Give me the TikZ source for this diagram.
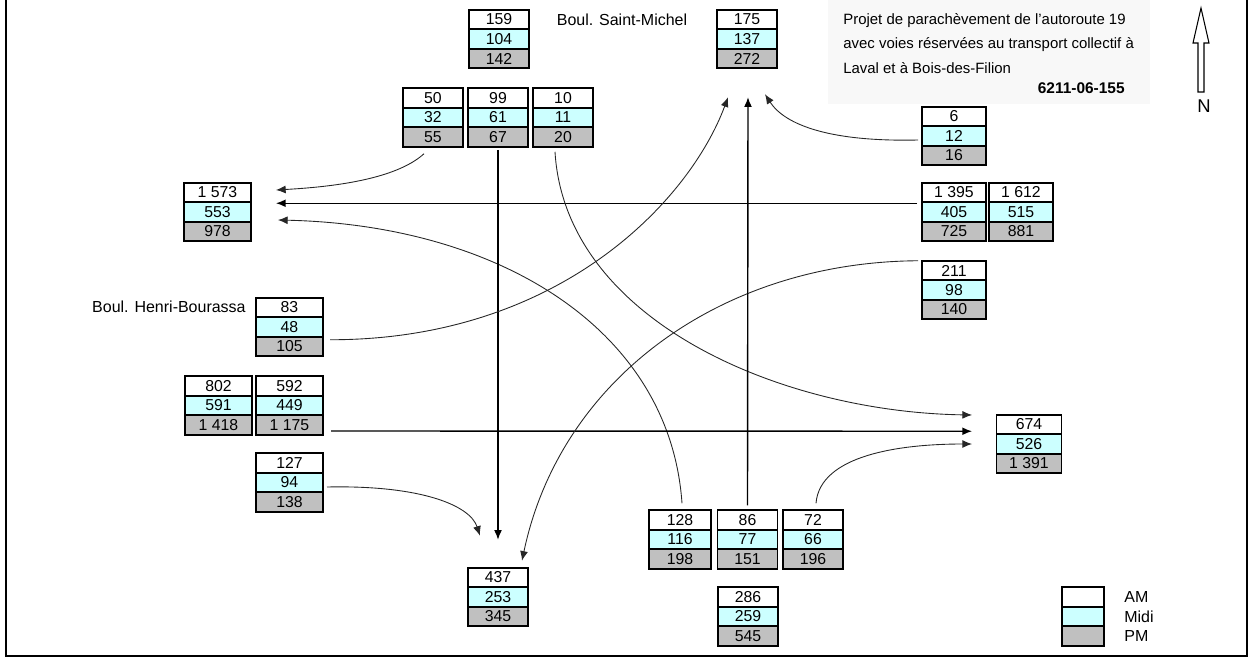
\documentclass[tikz,border=0pt]{standalone}
\usepackage{fontspec}
\setmainfont{Liberation Sans}
\usetikzlibrary{arrows.meta,calc}
\definecolor{midi}{HTML}{CCFFFF}
\definecolor{pmgray}{HTML}{C0C0C0}
\definecolor{titlebg}{HTML}{F8F8F8}
\newcommand{\tribox}[7]{%
  \node[cellbox, minimum width=#4*0.02cm, fill=white] (#1-t) at (#2,#3-19.5) {#5};
  \node[cellbox, minimum width=#4*0.02cm, fill=midi] (#1) at (#2,#3) {#6};
  \node[cellbox, minimum width=#4*0.02cm, fill=pmgray] (#1-b) at (#2,#3+19.5) {#7};
}
\begin{document}
\begin{tikzpicture}[x=0.02cm, y=-0.02cm,
  cellbox/.style={draw, line width=1.1pt, minimum height=0.39cm, inner sep=0pt, outer sep=0pt,
    font=\fontsize{9}{10}\selectfont},
  lbl/.style={inner sep=0pt, font=\fontsize{9.1}{10}\selectfont},
  curv/.style={-{Latex[length=5.5pt,width=4.5pt]}, line width=0.5pt, black!85},
  strt/.style={-{Latex[length=5.5pt,width=4.5pt]}, line width=0.8pt}]
\useasboundingbox (0,0) rectangle (1252,663);
% title background
\fill[titlebg] (828,0) rectangle (1150,104);
% frame
\draw[line width=1.2pt] (6,0) -- (6,656) -- (1247,656) -- (1247,0);

% boxes
\tribox{b159}{499}{39}{60}{159}{104}{142}
\tribox{b175}{747}{39}{60}{175}{137}{272}
\tribox{b50}{433}{117.5}{60}{50}{32}{55}
\tribox{b99}{498}{117.5}{60}{99}{61}{67}
\tribox{b10}{563}{117.5}{60}{10}{11}{20}
\tribox{b6}{954}{136}{64}{6}{12}{16}
\tribox{b1573}{217.5}{212}{67}{1 573}{553}{978}
\tribox{b1395}{954}{212}{64}{1 395}{405}{725}
\tribox{b1612}{1021}{212}{64}{1 612}{515}{881}
\tribox{b211}{954}{290}{64}{211}{98}{140}
\tribox{b83}{289.5}{327}{67}{83}{48}{105}
\tribox{b802}{218.5}{405.5}{67}{802}{591}{1 418}
\tribox{b592}{289.5}{405.5}{67}{592}{449}{1 175}
\tribox{b127}{289.5}{482.5}{67}{127}{94}{138}
\tribox{b674}{1029}{444}{65}{674}{526}{1 391}
\tribox{b128}{680}{539.5}{62}{128}{116}{198}
\tribox{b86}{747.5}{539.5}{60}{86}{77}{151}
\tribox{b72}{813}{539.5}{60}{72}{66}{196}
\tribox{b437}{498}{597}{60}{437}{253}{345}
\tribox{b286}{748}{616.5}{60}{286}{259}{545}
\tribox{leg}{1083}{616.5}{42}{}{}{}

% legend labels
\node[lbl, anchor=west] (lam) at (1124,597) {AM};
\node[lbl, anchor=west] (lmidi) at (1124,617) {Midi};
\node[lbl, anchor=west] (lpm) at (1124,636) {PM};

% street labels
\node[lbl] (smichel) at (622,20) {Boul. Saint-Michel};
\node[lbl, anchor=east] (hbourassa) at (246,307) {Boul. Henri-Bourassa};

% title
\node[inner sep=0pt, anchor=north west, align=left, font=\fontsize{8.5}{13.9}\selectfont] (title) at (843,13)
  {Projet de parachèvement de l’autoroute 19\\avec voies réservées au transport collectif à\\Laval et à Bois-des-Filion};
\node[inner sep=0pt, anchor=east, font=\fontsize{8.8}{10}\selectfont\bfseries] (code) at (1125,88) {6211-06-155};

% north arrow
\draw[line width=0.6pt, fill=white] (1201,8) -- (1209,43) -- (1204,43) -- (1204,92) -- (1198,92) -- (1198,43) -- (1193,43) -- cycle;
\node[inner sep=0pt, font=\fontsize{10.5}{12}\selectfont] (north) at (1204,106) {N};

% connectors
\draw[curv] ($(b50-b.south)+(-9,7)$) .. controls (395,180) and (330,187) .. ($(b1573-t.east)+(25,-2.5)$);
\draw[strt] ($(b1395.north west)+(-5,1)$) -- ($(b1573.north east)+(25,1)$);
\draw[curv] ($(b128-t.north)+(2,-7)$) .. controls (670,330) and (500,225) .. ($(b1573.east)+(27,8)$);
\draw[strt] ($(b99-b.south)+(0,3)$) -- ($(b437-t.north)+(0,-28)$);
\draw[curv] ($(b10-b.south)+(-8,5)$) .. controls (565,320) and (780,412) .. ($(b674-t.west)+(-24.5,-9.5)$);
\draw[strt] ($(b592-b.east)+(8,6)$) -- ($(b674-t.south west)+(-24.5,-3)$);
\draw[curv] ($(b72-t.north)+(3,-7)$) .. controls (820,455) and (900,444) .. ($(b674.west)+(-24.5,0)$);
\draw[curv] ($(b127.east)+(4,4.5)$) .. controls (420,485) and (470,505) .. ($(b437-t.north)+(-18,-32)$);
\draw[curv] ($(b211-t.north west)+(-4,0)$) .. controls (720,262) and (560,380) .. ($(b437-t.north)+(24,-7)$);
\draw[curv] ($(b83-b.north east)+(7,3)$) .. controls (560,340) and (690,200) .. ($(b175-b.south)+(-19,29)$);
\draw[strt] ($(b86-t.north)+(0,-5)$) -- ($(b175-b.south)+(1,29)$);
\draw[curv] ($(b6.west)+(-4,4)$) .. controls (830,142) and (785,125) .. ($(b175-b.south)+(18,26)$);
\end{tikzpicture}
\end{document}
